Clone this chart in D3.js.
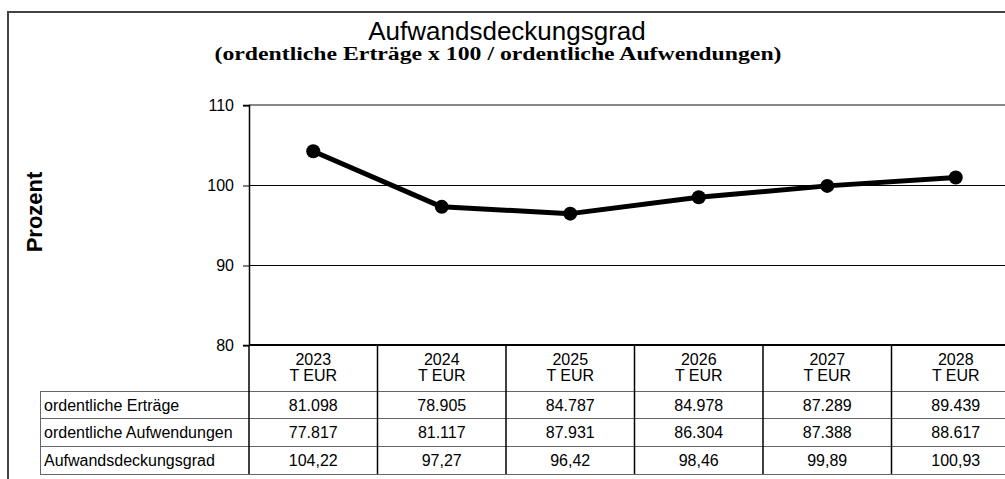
<!DOCTYPE html>
<html><head><meta charset="utf-8">
<script src="https://cdn.jsdelivr.net/npm/d3@7"></script>
<style>body{margin:0;background:#fff}svg{display:block}</style>
</head><body>
<svg id="c" width="1005" height="479"></svg>
<script>
const years = ["2023","2024","2025","2026","2027","2028"];
const ratio = [104.22, 97.27, 96.42, 98.46, 99.89, 100.93];
const rowLabels = ["ordentliche Erträge","ordentliche Aufwendungen","Aufwandsdeckungsgrad"];
const ertraege = ["81.098","78.905","84.787","84.978","87.289","89.439"];
const aufwendungen = ["77.817","81.117","87.931","86.304","87.388","88.617"];
const grad = ["104,22","97,27","96,42","98,46","99,89","100,93"];
const yTicks = [80, 90, 100, 110];
const unit = "T EUR";

const svg = d3.select("#c");
const F = "Liberation Sans, Arial, sans-serif";
const x = d3.scaleBand().domain(years).range([249, 1020]).padding(0);
const y = d3.scaleLinear().domain([80, 110]).range([345, 105]);

// outer frame
svg.append("path").attr("d","M8,480 V12 H1006").attr("fill","none").attr("stroke","#444").attr("stroke-width",2);

// titles
svg.append("text").attr("x",507).attr("y",40).attr("text-anchor","middle")
  .attr("font-family",F).attr("font-size",26).text("Aufwandsdeckungsgrad");
svg.append("text").attr("x",498).attr("y",60).attr("text-anchor","middle")
  .attr("font-family","Liberation Serif, DejaVu Serif, serif").attr("font-weight","bold").attr("font-size",18)
  .attr("textLength",567).attr("lengthAdjust","spacingAndGlyphs")
  .text("(ordentliche Erträge x 100 / ordentliche Aufwendungen)");

// y label
svg.append("text").attr("transform","translate(42,212) rotate(-90)").attr("text-anchor","middle")
  .attr("font-family",F).attr("font-weight","bold").attr("font-size",22).text("Prozent");

// gridlines
svg.append("g").selectAll("line").data([90,100]).join("line")
  .attr("x1",249).attr("x2",1005).attr("y1",d=>y(d)+0.5).attr("y2",d=>y(d)+0.5)
  .attr("stroke","#000").attr("stroke-width",1);
// top border of plot
svg.append("line").attr("x1",249).attr("x2",1005).attr("y1",y(110)).attr("y2",y(110))
  .attr("stroke","#888").attr("stroke-width",2);

// y axis
const yAxis = d3.axisLeft(y).tickValues(yTicks).tickSize(6).tickPadding(9);
const ga = svg.append("g").attr("transform","translate(249,0)").call(yAxis);
ga.select(".domain").attr("stroke","#000").attr("stroke-width",1.5);
ga.selectAll(".tick line").attr("stroke","#000").attr("transform","translate(0,0.5)");
ga.selectAll(".tick text").attr("font-family",F).attr("font-size",16).attr("fill","#000");

// x axis line (bottom of plot)
svg.append("line").attr("x1",249).attr("x2",1005).attr("y1",y(80)).attr("y2",y(80))
  .attr("stroke","#000").attr("stroke-width",2);

// line + markers
const cx = d => x(d) + x.bandwidth()/2;
svg.append("path").datum(ratio)
  .attr("d", d3.line().x((d,i)=>cx(years[i])).y(d=>y(d)))
  .attr("fill","none").attr("stroke","#000").attr("stroke-width",5).attr("stroke-linejoin","round");
svg.append("g").selectAll("circle").data(ratio).join("circle")
  .attr("cx",(d,i)=>cx(years[i])).attr("cy",d=>y(d)).attr("r",7).attr("fill","#000");

// table
const rowTops = [391.5, 418.5, 446.5, 474.5];
const tbl = svg.append("g");
years.forEach(yr=>{
  tbl.append("text").attr("x",cx(yr)).attr("y",365).attr("text-anchor","middle")
    .attr("font-family",F).attr("font-size",16).text(yr);
  tbl.append("text").attr("x",cx(yr)).attr("y",381).attr("text-anchor","middle")
    .attr("font-family",F).attr("font-size",16).text(unit);
});
rowTops.forEach(t=>{
  tbl.append("line").attr("x1",40).attr("x2",1005).attr("y1",t).attr("y2",t)
    .attr("stroke","#666").attr("stroke-width",1);
});
years.slice(1).forEach(yr=>{
  tbl.append("line").attr("x1",x(yr)).attr("x2",x(yr)).attr("y1",345).attr("y2",474)
    .attr("stroke","#000").attr("stroke-width",1.5);
});
tbl.append("line").attr("x1",249).attr("x2",249).attr("y1",345).attr("y2",474)
  .attr("stroke","#000").attr("stroke-width",1.5);
tbl.append("line").attr("x1",40.5).attr("x2",40.5).attr("y1",391).attr("y2",475)
  .attr("stroke","#666").attr("stroke-width",1);
const rows = [ertraege, aufwendungen, grad];
rows.forEach((vals,r)=>{
  const mid = (rowTops[r]+rowTops[r+1])/2 + 5.5;
  tbl.append("text").attr("x",44).attr("y",mid).attr("font-family",F).attr("font-size",16).text(rowLabels[r]);
  vals.forEach((v,i)=>{
    tbl.append("text").attr("x",cx(years[i])).attr("y",mid).attr("text-anchor","middle")
      .attr("font-family",F).attr("font-size",16).text(v);
  });
});
</script>
</body></html>
